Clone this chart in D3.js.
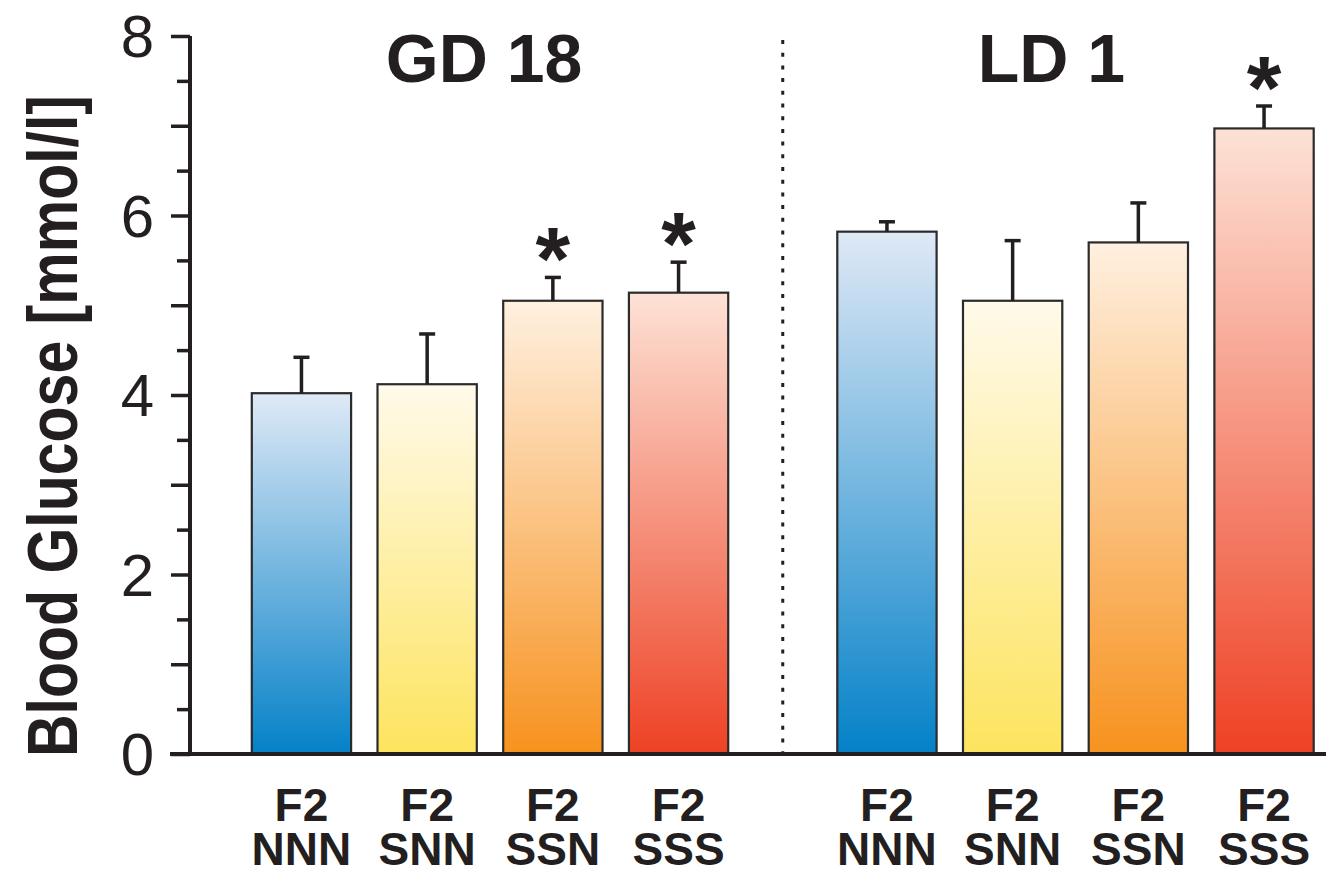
<!DOCTYPE html>
<html>
<head>
<meta charset="utf-8">
<script src="https://cdn.jsdelivr.net/npm/d3@7"></script>
<style>
  body { margin: 0; background: #fff; }
  svg { display: block; font-family: "Liberation Sans", Arial, sans-serif; }
</style>
</head>
<body>
<svg width="1326" height="875"></svg>
<script>
let groups = ['GD 18', 'LD 1'];
let categories = ['NNN', 'SNN', 'SSN', 'SSS'];
let gdMeans = [4.02, 4.12, 5.05, 5.14];
let gdErrors = [0.40, 0.56, 0.26, 0.34];
let gdSignificant = [false, false, true, true];
let ldMeans = [5.82, 5.05, 5.70, 6.97];
let ldErrors = [0.11, 0.67, 0.44, 0.25];
let ldSignificant = [false, false, false, true];
let yTicks = [0, 0.5, 1, 1.5, 2, 2.5, 3, 3.5, 4, 4.5, 5, 5.5, 6, 6.5, 7, 7.5, 8];
let yLabels = [0, 2, 4, 6, 8];

// top (light) and bottom (saturated) colour of each bar gradient
let gradColors = [
	['#dfe9f6', '#0481c8'],
	['#fffaea', '#fde45e'],
	['#fff0e0', '#f7921e'],
	['#fde2d6', '#ee4124']
];

let svg = d3.select('svg');
let axisX = 190, baseY = 754;

let y = d3.scaleLinear().domain([0, 8]).range([baseY, 36]);
let x0 = d3.scaleBand().domain(groups).range([238.6, 1326.9]).paddingInner(0.1412);
let x1 = d3.scaleBand().domain(categories).range([0, x0.bandwidth()])
	.paddingInner(0.21).paddingOuter(0.105);

let rows = [];
groups.forEach(function(g, gi) {
	let means = gi === 0 ? gdMeans : ldMeans;
	let errs = gi === 0 ? gdErrors : ldErrors;
	let sig = gi === 0 ? gdSignificant : ldSignificant;
	categories.forEach(function(c, ci) {
		rows.push({group: g, cat: c, ci: ci, mean: means[ci], err: errs[ci], sig: sig[ci]});
	});
});

let defs = svg.append('defs');
gradColors.forEach(function(cols, i) {
	let lg = defs.append('linearGradient')
		.attr('id', 'grad' + i)
		.attr('x1', 0).attr('y1', 0).attr('x2', 0).attr('y2', 1);
	lg.append('stop').attr('offset', '0%').attr('stop-color', cols[0]);
	lg.append('stop').attr('offset', '100%').attr('stop-color', cols[1]);
});

// dotted separator between the two time points
let sepX = (x0(groups[0]) + x0.bandwidth() + x0(groups[1])) / 2;
svg.append('line')
	.attr('x1', sepX).attr('x2', sepX)
	.attr('y1', y(8) + 4).attr('y2', baseY)
	.attr('stroke', '#231f20')
	.attr('stroke-width', 3)
	.attr('stroke-dasharray', '4,8.7');

let barX = d => x0(d.group) + x1(d.cat);
let barMid = d => barX(d) + x1.bandwidth() / 2;

// bars
svg.append('g')
	.selectAll('rect')
	.data(rows)
	.join('rect')
	.attr('x', barX)
	.attr('y', d => y(d.mean))
	.attr('width', x1.bandwidth())
	.attr('height', d => baseY - y(d.mean))
	.attr('fill', d => 'url(#grad' + d.ci + ')')
	.attr('stroke', '#2b2b2b')
	.attr('stroke-width', 2.2);

// error bars
let eb = svg.append('g')
	.attr('stroke', '#231f20')
	.attr('stroke-width', 3.5);
eb.selectAll('line.v')
	.data(rows)
	.join('line')
	.attr('class', 'v')
	.attr('x1', barMid)
	.attr('x2', barMid)
	.attr('y1', d => y(d.mean))
	.attr('y2', d => y(d.mean + d.err));
eb.selectAll('line.cap')
	.data(rows)
	.join('line')
	.attr('class', 'cap')
	.attr('x1', d => barMid(d) - 8)
	.attr('x2', d => barMid(d) + 8)
	.attr('y1', d => y(d.mean + d.err))
	.attr('y2', d => y(d.mean + d.err));

// significance stars
svg.append('g')
	.selectAll('text')
	.data(rows.filter(d => d.sig))
	.join('text')
	.attr('x', barMid)
	.attr('y', d => y(d.mean + d.err) + 12)
	.attr('text-anchor', 'middle')
	.attr('font-size', 89)
	.attr('font-weight', 'bold')
	.attr('fill', '#231f20')
	.text('*');

// x axis baseline
svg.append('line')
	.attr('x1', 170).attr('x2', 1326)
	.attr('y1', baseY).attr('y2', baseY)
	.attr('stroke', '#231f20')
	.attr('stroke-width', 4);

// y axis
let yAxis = svg.append('g')
	.attr('transform', 'translate(' + axisX + ',0)')
	.call(d3.axisLeft(y).tickValues(yTicks).tickSizeOuter(0).tickFormat(''));
yAxis.select('.domain').attr('stroke', '#231f20').attr('stroke-width', 4)
	.attr('d', 'M0,' + y(8) + 'V' + baseY);
yAxis.selectAll('.tick line')
	.attr('stroke', '#231f20')
	.attr('stroke-width', 3.5)
	.attr('x2', d => Number.isInteger(d) ? -19 : -13);

svg.append('g')
	.selectAll('text')
	.data(yLabels)
	.join('text')
	.attr('x', 154)
	.attr('y', d => y(d))
	.attr('dy', '0.35em')
	.attr('text-anchor', 'end')
	.attr('font-size', 60)
	.attr('fill', '#231f20')
	.text(d => d);

// y axis title
svg.append('text')
	.attr('transform', 'translate(77,426) rotate(-90)')
	.attr('text-anchor', 'middle')
	.attr('font-size', 70)
	.attr('font-weight', 'bold')
	.attr('textLength', 662)
	.attr('lengthAdjust', 'spacingAndGlyphs')
	.attr('fill', '#231f20')
	.text('Blood Glucose [mmol/l]');

// group titles
let titleShift = [-6, -24];
svg.append('g')
	.selectAll('text')
	.data(groups)
	.join('text')
	.attr('x', (d, i) => x0(d) + x0.bandwidth() / 2 + titleShift[i])
	.attr('y', 82)
	.attr('text-anchor', 'middle')
	.attr('font-size', 68)
	.attr('font-weight', 'bold')
	.attr('fill', '#231f20')
	.text(d => d);

// category labels, two lines each
let labels = svg.append('g')
	.attr('text-anchor', 'middle')
	.attr('font-size', 46)
	.attr('font-weight', 'bold')
	.attr('fill', '#231f20');
labels.selectAll('text.top')
	.data(rows)
	.join('text')
	.attr('class', 'top')
	.attr('x', barMid)
	.attr('y', 821)
	.text('F2');
labels.selectAll('text.bottom')
	.data(rows)
	.join('text')
	.attr('class', 'bottom')
	.attr('x', barMid)
	.attr('y', 865)
	.text(d => d.cat);
</script>
</body>
</html>
